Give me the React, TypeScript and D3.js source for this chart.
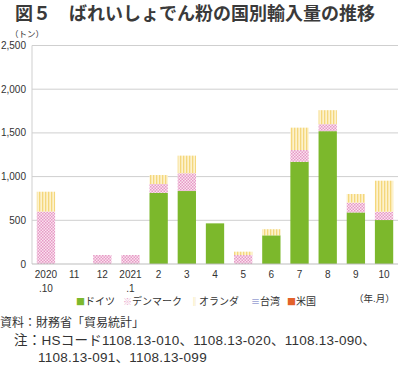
import * as d3 from 'd3';

const categories = ['2020\n.10', '11', '12', '2021\n.1', '2', '3', '4', '5', '6', '7', '8', '9', '10'];
const germany = [0, 0, 0, 0, 815, 835, 465, 0, 328, 1170, 1520, 590, 503];
const denmark = [600, 0, 103, 103, 100, 203, 0, 103, 0, 134, 80, 112, 95];
const netherlands = [227, 0, 0, 0, 103, 202, 0, 38, 70, 256, 160, 99, 355];
const taiwan = [0, 0, 0, 0, 0, 0, 0, 0, 0, 0, 0, 0, 0];
const usa = [0, 0, 0, 0, 0, 0, 0, 0, 0, 0, 0, 0, 0];
const yTicks = [0, 500, 1000, 1500, 2000, 2500];

const seriesNames = ['ドイツ', 'デンマーク', 'オランダ', '台湾', '米国'];
const seriesFill = ['#7cb82c', 'url(#pDen)', 'url(#pNed)', 'url(#pTw)', '#e2622a'];
const legendSwatch = ['#7cb82c', '#e9a3c9', '#f3d77a', '#6670c0', '#e2622a'];
const legendMark = ['■', '※', '‖', '≡', '■'];

const W = 400;
const H = 366;
const margin = { left: 32, right: 2, top: 45.5, bottom: 102 };
const font = "'Liberation Sans', 'Noto Sans CJK JP', sans-serif";
const jp = "'Noto Sans CJK JP', sans-serif";

export default function App() {
  const x = d3.scaleBand<string>()
    .domain(categories)
    .range([margin.left, W - margin.right])
    .paddingInner(0.35)
    .paddingOuter(0.17);
  const y = d3.scaleLinear().domain([0, 2500]).range([H - margin.bottom, margin.top]);

  const rows = categories.map((c, i) => ({
    cat: c,
    s0: germany[i], s1: denmark[i], s2: netherlands[i], s3: taiwan[i], s4: usa[i],
  }));
  const stack = d3.stack<any>().keys(['s0', 's1', 's2', 's3', 's4'])(rows);

  const legendX = [76, 123, 190, 251, 287];

  return (
    <svg width={W} height={H} style={{ position: 'absolute', left: 0, top: 0, background: '#fff' }}>
      <defs>
        <pattern id="pDen" width="3" height="3" patternUnits="userSpaceOnUse">
          <rect width="3" height="3" fill="#fbe3ef" />
          <rect x="0" y="0" width="1.5" height="1.5" fill="#e69ac6" />
          <rect x="1.5" y="1.5" width="1.5" height="1.5" fill="#e69ac6" />
        </pattern>
        <pattern id="pNed" width="3" height="4" patternUnits="userSpaceOnUse">
          <rect width="3" height="4" fill="#fdf2cc" />
          <rect x="0" y="0" width="1.3" height="4" fill="#f4d77c" />
        </pattern>
        <pattern id="pTw" width="4" height="3" patternUnits="userSpaceOnUse">
          <rect width="4" height="3" fill="#fff" />
          <rect x="0" y="0" width="4" height="1" fill="#6670c0" />
        </pattern>
      </defs>

      <text x={15} y={20} fontFamily={jp} fontSize={18} fontWeight={700} fill="#3a3a3a">
        図５　ばれいしょでん粉の国別輸入量の推移
      </text>

      <text x={10} y={37} fontFamily={jp} fontSize={8.5} fill="#333">（トン）</text>

      {yTicks.map(t => (
        <g key={t}>
          {t > 0 && (
            <line x1={margin.left} x2={W - margin.right} y1={y(t)} y2={y(t)} stroke="#cfcfcf" strokeWidth={1} />
          )}
          <text x={26} y={y(t) + 3.5} textAnchor="end" fontFamily={font} fontSize={10} fill="#333">
            {d3.format(',')(t)}
          </text>
        </g>
      ))}
      <line x1={margin.left} x2={margin.left} y1={y(2500)} y2={y(0)} stroke="#cfcfcf" />

      {stack.map((s, si) => (
        <g key={si} fill={seriesFill[si]}>
          {s.map((d, i) => (
            d[1] - d[0] > 0 ? (
              <rect key={i} x={x(categories[i])} width={x.bandwidth()} y={y(d[1])} height={y(d[0]) - y(d[1])} />
            ) : null
          ))}
        </g>
      ))}

      <line x1={margin.left} x2={W - margin.right} y1={y(0)} y2={y(0)} stroke="#bdbdbd" />

      {categories.map(c => {
        const parts = c.split('\n');
        const cx = (x(c) as number) + x.bandwidth() / 2;
        return (
          <text key={c} x={cx} textAnchor="middle" fontFamily={font} fontSize={10} fill="#333">
            {parts.map((p, k) => (
              <tspan key={k} x={cx} y={278 + k * 14}>{p}</tspan>
            ))}
          </text>
        );
      })}

      {seriesNames.map((n, i) => (
        <g key={n}>
          <text x={legendX[i]} y={305} fontFamily={jp} fontSize={9} fill={legendSwatch[i]}>{legendMark[i]}</text>
          <text x={legendX[i] + 9} y={305} fontFamily={jp} fontSize={10} fill="#333">{n}</text>
        </g>
      ))}
      <text x={354} y={302} fontFamily={jp} fontSize={9.5} fill="#333">（年.月）</text>

      <text x={0} y={327} fontFamily={font} fontSize={12} fill="#333">資料：財務省「貿易統計」</text>
      <text x={14} y={345} fontFamily={font} fontSize={13.5} letterSpacing={0.25} fill="#333">注：HSコード1108.13-010、1108.13-020、1108.13-090、</text>
      <text x={38} y={362} fontFamily={font} fontSize={13.5} letterSpacing={0.25} fill="#333">1108.13-091、1108.13-099</text>
    </svg>
  );
}
